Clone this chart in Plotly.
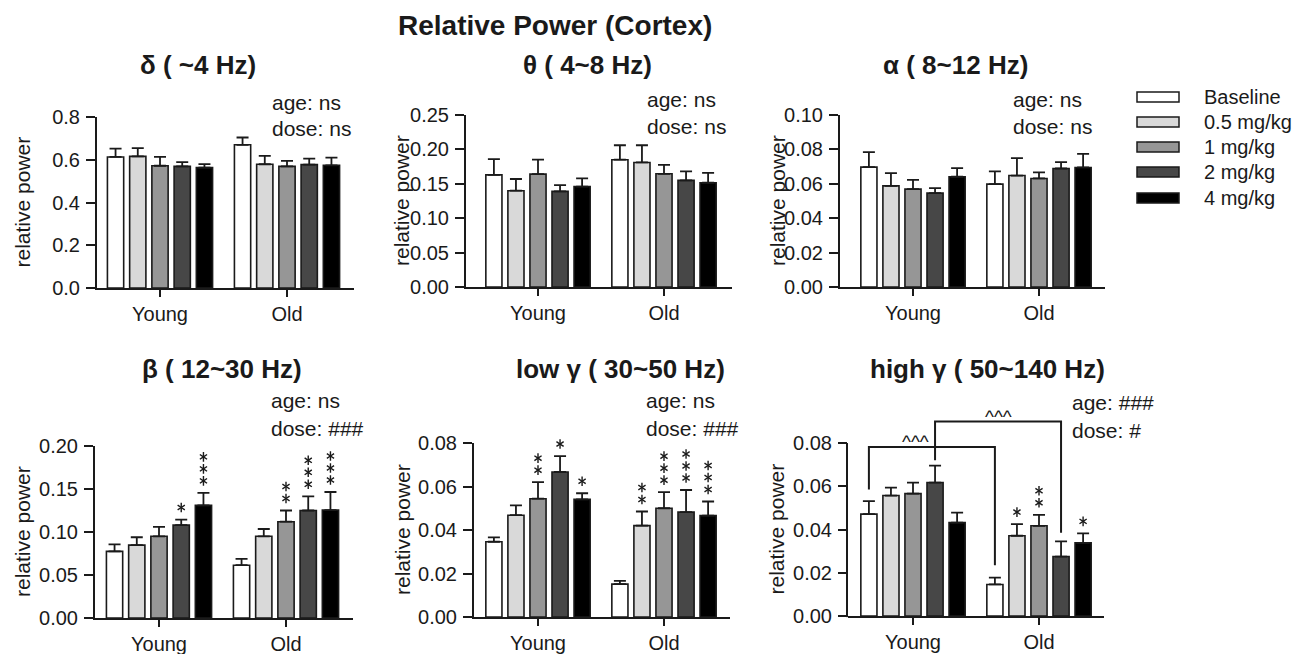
import plotly.graph_objects as go

FONT = "Arial, 'Liberation Sans', Helvetica, sans-serif"
INK = "#1a1a1a"
W, H = 1300, 654
OFF = 8  # page body margin in the browser


def X(px):
    return (px - OFF) / W


def Y(py):
    return 1 - (py - OFF) / H


# ---------------- data ----------------
groups = ["Young", "Old"]
doses = ["Baseline", "0.5 mg/kg", "1 mg/kg", "2 mg/kg", "4 mg/kg"]
dose_colors = ["#ffffff", "#d9d9d9", "#969696", "#474747", "#000000"]

panel_titles = ["δ ( ~4 Hz)", "θ ( 4~8 Hz)", "α ( 8~12 Hz)",
                "β ( 12~30 Hz)", "low γ ( 30~50 Hz)", "high γ ( 50~140 Hz)"]

delta_young = [0.613, 0.616, 0.572, 0.569, 0.563]
delta_young_err = [0.039, 0.038, 0.041, 0.020, 0.017]
delta_old = [0.670, 0.579, 0.569, 0.577, 0.574]
delta_old_err = [0.034, 0.039, 0.026, 0.028, 0.036]

theta_young = [0.163, 0.140, 0.164, 0.139, 0.146]
theta_young_err = [0.023, 0.017, 0.021, 0.009, 0.012]
theta_old = [0.185, 0.181, 0.1645, 0.155, 0.1515]
theta_old_err = [0.021, 0.025, 0.013, 0.013, 0.0145]

alpha_young = [0.0697, 0.0588, 0.0569, 0.0546, 0.0641]
alpha_young_err = [0.0087, 0.0074, 0.0054, 0.0029, 0.0050]
alpha_old = [0.0598, 0.0648, 0.0631, 0.0689, 0.0695]
alpha_old_err = [0.0074, 0.0101, 0.0035, 0.0037, 0.0079]

beta_young = [0.0775, 0.0847, 0.095, 0.108, 0.131]
beta_young_err = [0.008, 0.0092, 0.011, 0.0065, 0.0145]
beta_old = [0.0614, 0.095, 0.112, 0.125, 0.1255]
beta_old_err = [0.0073, 0.0085, 0.013, 0.0165, 0.021]

lowg_young = [0.0346, 0.0468, 0.0544, 0.0667, 0.0541]
lowg_young_err = [0.002, 0.0045, 0.0076, 0.0073, 0.0028]
lowg_old = [0.0151, 0.042, 0.050, 0.0482, 0.0466]
lowg_old_err = [0.0015, 0.0065, 0.0074, 0.0102, 0.0065]

highg_young = [0.0471, 0.0557, 0.0566, 0.0617, 0.0432]
highg_young_err = [0.006, 0.0037, 0.0051, 0.0078, 0.0046]
highg_old = [0.0146, 0.0371, 0.0417, 0.0275, 0.0338]
highg_old_err = [0.0031, 0.0054, 0.0051, 0.007, 0.0044]

# number of significance stars above each bar
beta_stars_young = [0, 0, 0, 1, 3]
beta_stars_old = [0, 0, 2, 3, 3]
lowg_stars_young = [0, 0, 2, 3, 1]
lowg_stars_old = [0, 2, 3, 3, 3]
highg_stars_young = [0, 0, 0, 0, 0]
highg_stars_old = [0, 1, 2, 0, 1]
no_stars = [0, 0, 0, 0, 0]

age_stats = ["ns", "ns", "ns", "ns", "ns", "###"]
dose_stats = ["ns", "ns", "ns", "###", "###", "#"]

# y-axis: top value, tick step, tick format
y_tops = [0.8, 0.25, 0.10, 0.20, 0.08, 0.08]
y_steps = [0.2, 0.05, 0.02, 0.05, 0.02, 0.02]
y_formats = [".1f", ".2f", ".2f", ".2f", ".2f", ".2f"]

# high-gamma age comparison brackets: (dose index, top, left end, right end)
bracket_dose = [0, 3]
bracket_top = [0.0782, 0.090]
bracket_left_end = [0.0585, 0.072]
bracket_right_end = [0.0235, 0.0385]
bracket_label = ["^^^", "^^^"]

panels = [
    (delta_young, delta_young_err, delta_old, delta_old_err, no_stars, no_stars),
    (theta_young, theta_young_err, theta_old, theta_old_err, no_stars, no_stars),
    (alpha_young, alpha_young_err, alpha_old, alpha_old_err, no_stars, no_stars),
    (beta_young, beta_young_err, beta_old, beta_old_err, beta_stars_young, beta_stars_old),
    (lowg_young, lowg_young_err, lowg_old, lowg_old_err, lowg_stars_young, lowg_stars_old),
    (highg_young, highg_young_err, highg_old, highg_old_err, highg_stars_young, highg_stars_old),
]

# ---------------- layout geometry (target pixels) ----------------
# (y-axis x, Young tick x, Old tick x, x-axis end, y=0 px, top-of-domain px)
boxes = [
    (97, 160, 287, 354, 288, 117),
    (466, 538, 664, 732, 287, 115),
    (840, 913, 1039, 1105, 287, 115),
    (95, 159, 286, 353, 618, 446),
    (474, 538, 664, 730, 617, 443),
    (848, 913, 1039, 1104, 616, 395),
]
hg_top_tick_px = 443  # pixel of 0.08 on high gamma panel
title_pos = [(198, 65), (587, 65), (955, 65), (222, 369), (620, 369), (987, 369)]
stat_pos = [(270, 102, 129), (645, 100, 126), (1011, 100, 126),
            (269, 400, 428), (644, 400, 428), (1070, 402, 430)]
ytitle_x = [22, 402, 778, 22, 402, 776]

BAR_STEP = 0.175
BAR_W = 0.128
STAR_GAP_PX = 12     # first star centre above the error bar
STAR_STEP_PX = 12    # spacing between stacked stars

fig = go.Figure()
annotations = []
shapes = []
layout_axes = {}

for p, (yv, ye, ov, oe, ys, os_) in enumerate(panels):
    i = p + 1
    ax_x, yx, ox, end_x, y0px, ytop_px = boxes[p]
    unit = ox - yx
    xr = [(ax_x - yx) / unit, 1 + (end_x - ox) / unit]
    if p == 5:
        ymax = y_tops[p] * (y0px - ytop_px) / (y0px - hg_top_tick_px)
        axis_top_px = hg_top_tick_px
    else:
        ymax = y_tops[p]
        axis_top_px = ytop_px
    px_per_unit = (y0px - ytop_px) / ymax
    xa = "x" if i == 1 else f"x{i}"
    ya = "y" if i == 1 else f"y{i}"
    star_x, star_y = [], []
    for j, dname in enumerate(doses):
        off = (j - 2) * BAR_STEP
        fig.add_trace(go.Bar(
            x=[0 + off, 1 + off], y=[yv[j], ov[j]], width=BAR_W, name=dname,
            marker=dict(color=dose_colors[j], line=dict(color=INK, width=1.6)),
            error_y=dict(type="data", symmetric=False, array=[ye[j], oe[j]],
                         arrayminus=[0, 0], color=INK, thickness=1.8, width=6),
            xaxis=xa, yaxis=ya, showlegend=False, hoverinfo="skip"))
        for g, (vals, errs, nst) in enumerate([(yv, ye, ys), (ov, oe, os_)]):
            for k in range(nst[j]):
                star_x.append(g + off)
                star_y.append(vals[j] + errs[j] +
                              (STAR_GAP_PX + STAR_STEP_PX * k) / px_per_unit)
    if star_x:
        for sym in ["y-up-open", "y-down-open"]:
            fig.add_trace(go.Scatter(
                x=star_x, y=star_y, mode="markers", xaxis=xa, yaxis=ya,
                marker=dict(symbol=sym, size=6, color=INK,
                            line=dict(color=INK, width=1.4)),
                cliponaxis=False, showlegend=False, hoverinfo="skip"))
    tickvals = [round(t * y_steps[p], 4) for t in range(int(round(y_tops[p] / y_steps[p])) + 1)]
    layout_axes[f"xaxis{'' if i == 1 else i}"] = dict(
        domain=[X(ax_x), X(end_x)], range=xr, anchor=ya, automargin=False,
        tickvals=[0, 1], ticktext=groups, ticks="outside", ticklen=7, tickwidth=2,
        tickcolor=INK, showline=True, linewidth=2, linecolor=INK, showgrid=False,
        zeroline=False, tickfont=dict(family=FONT, size=20, color=INK), fixedrange=True)
    layout_axes[f"yaxis{'' if i == 1 else i}"] = dict(
        domain=[Y(y0px), Y(ytop_px)], range=[0, ymax], anchor=xa, automargin=False,
        tickvals=tickvals, tickformat=y_formats[p], ticks="outside", ticklen=9,
        tickwidth=2, tickcolor=INK, showline=(p != 5), linewidth=2, linecolor=INK,
        showgrid=False, zeroline=False, ticklabelstandoff=2,
        tickfont=dict(family=FONT, size=20, color=INK), fixedrange=True)
    if p == 5:
        shapes.append(dict(type="line", xref=f"{xa} domain", yref=f"{ya} domain",
                           x0=-0.004, x1=-0.004, y0=-0.005, y1=y_tops[p] / ymax,
                           line=dict(color=INK, width=2)))
        for b in range(len(bracket_dose)):
            xl = 0 + (bracket_dose[b] - 2) * BAR_STEP
            xr_ = 1 + (bracket_dose[b] - 2) * BAR_STEP
            shapes.append(dict(
                type="path", xref=xa, yref=ya,
                path=f"M {xl},{bracket_left_end[b]} L {xl},{bracket_top[b]} "
                     f"L {xr_},{bracket_top[b]} L {xr_},{bracket_right_end[b]}",
                line=dict(color=INK, width=2)))
            annotations.append(dict(
                x=(xl + xr_) / 2, y=bracket_top[b], xref=xa, yref=ya,
                text=bracket_label[b], showarrow=False, yanchor="middle",
                yshift=5, xshift=(-16 if b == 0 else 0),
                font=dict(family=FONT, size=19, color=INK)))
    # panel title
    tx, ty = title_pos[p]
    annotations.append(dict(x=X(tx), y=Y(ty), xref="paper", yref="paper",
                            text=f"<b>{panel_titles[p]}</b>", showarrow=False,
                            xanchor="center", yanchor="middle",
                            font=dict(family=FONT, size=26, color=INK)))
    sx, sy1, sy2 = stat_pos[p]
    annotations.append(dict(x=X(sx), y=Y(sy1), xref="paper", yref="paper",
                            text=f"age: {age_stats[p]}", showarrow=False,
                            xanchor="left", yanchor="middle",
                            font=dict(family=FONT, size=21, color=INK)))
    annotations.append(dict(x=X(sx), y=Y(sy2), xref="paper", yref="paper",
                            text=f"dose: {dose_stats[p]}", showarrow=False,
                            xanchor="left", yanchor="middle",
                            font=dict(family=FONT, size=21, color=INK)))
    annotations.append(dict(x=X(ytitle_x[p]), y=Y((y0px + axis_top_px) / 2),
                            xref="paper", yref="paper", text="relative power",
                            textangle=-90, showarrow=False, xanchor="center",
                            yanchor="middle", font=dict(family=FONT, size=21, color=INK)))

# main title (top-anchored at the paper edge)
annotations.append(dict(x=X(555), y=1, xref="paper", yref="paper",
                        text="<b>Relative Power (Cortex)</b>", showarrow=False,
                        xanchor="center", yanchor="top",
                        font=dict(family=FONT, size=28, color=INK)))

# legend (custom swatches)
leg_rows = [97, 122, 147, 172, 198]
for j, dname in enumerate(doses):
    cy = leg_rows[j]
    shapes.append(dict(type="rect", xref="paper", yref="paper",
                       x0=X(1137), x1=X(1179), y0=Y(cy + 5), y1=Y(cy - 5),
                       fillcolor=dose_colors[j], line=dict(color=INK, width=1.5)))
    annotations.append(dict(x=X(1202), y=Y(cy), xref="paper", yref="paper",
                            text=dname, showarrow=False, xanchor="left", yanchor="middle",
                            font=dict(family=FONT, size=20, color=INK)))

fig.update_layout(
    width=W, height=H, margin=dict(l=0, r=0, t=0, b=0, autoexpand=False),
    paper_bgcolor="white", plot_bgcolor="white", barmode="overlay",
    showlegend=False, annotations=annotations, shapes=shapes,
    font=dict(family=FONT, color=INK), **layout_axes)

fig.write_html("out.html")
